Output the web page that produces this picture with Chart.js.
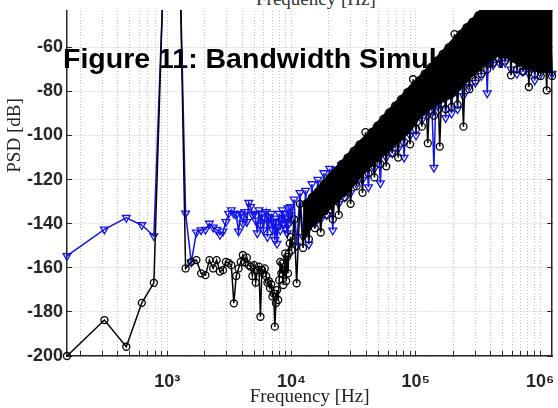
<!DOCTYPE html>
<html><head><meta charset="utf-8">
<script src="https://cdn.jsdelivr.net/npm/chart.js@4.4.1/dist/chart.umd.min.js"></script>
<style>
html,body{margin:0;padding:0;background:#fff;width:558px;height:408px;overflow:hidden;position:relative;}
#clip{position:absolute;left:0;top:10px;width:558px;height:398px;overflow:hidden;}
#cv{position:absolute;left:0;top:-105px;}
#above{position:absolute;left:256px;top:-11px;font-family:"Liberation Serif";font-size:19px;line-height:19px;color:#333;white-space:nowrap;}
</style></head><body>
<div id="above">Frequency [Hz]</div>
<div id="clip"><canvas id="cv" width="558" height="503"></canvas></div>
<script>
// ---------- data ----------
const FIG_TITLE = 'Figure 11: Bandwidth Simulation';
const X_TITLE = 'Frequency [Hz]';
const Y_TITLE = 'PSD [dB]';

// individually resolved FFT bins (Hz)
const sparseFreqHz = [156.25, 312.5, 468.75, 625, 781.25, 937.5, 1093.75, 1250, 1406.25, 1562.5,
  1718.75, 1875, 2031.25, 2187.5, 2343.75, 2500, 2656.25, 2812.5, 2968.75, 3125,
  3281.25, 3437.5, 3593.75, 3750, 3906.25, 4062.5, 4218.75, 4375, 4531.25, 4687.5,
  4843.75, 5000, 5156.25, 5312.5, 5468.75, 5625, 5781.25, 5937.5, 6093.75, 6250,
  6406.25, 6562.5, 6718.75, 6875, 7031.25, 7187.5, 7343.75, 7500, 7656.25, 7812.5,
  7968.75, 8125, 8281.25, 8437.5, 8593.75, 8750, 8906.25, 9062.5, 9218.75, 9375,
  9531.25, 9687.5, 9843.75, 10000];
const blueSparse = [-154.6, -142.6, -137.3, -140.6, -145.6, -25, -2, -8, -135.3, -157.5,
  -143.9, -142.9, -142.7, -139.9, -141.7, -142.7, -145, -143.5, -139.2, -135.4,
  -133.8, -135.4, -136, -143.5, -135.4, -139.9, -134.6, -139.2, -130.5, -132.4,
  -136, -135.4, -138.5, -144.3, -133.8, -140.7, -135.4, -142.9, -137.6, -134.6,
  -146, -136.9, -139.9, -135.4, -142.9, -139.2, -147.4, -137.6, -149, -141.4,
  -135.4, -142.9, -138.5, -133.8, -139.9, -135.4, -142, -137.6, -144.3, -133,
  -139.9, -136.1, -132.4, -138.5];
const blackSparse = [-200, -183.7, -195.8, -175.9, -166.8, -22, -1, -5, -160.3, -157.3,
  -156.5, -162.5, -163.3, -156.5, -160.3, -156.5, -161.7, -161, -157.3, -157.8,
  -158.8, -176.1, -163.7, -160.3, -157.3, -154.2, -157.6, -155.4, -158.8, -159.5,
  -163.7, -158.8, -166.7, -161, -159.5, -182.2, -161, -162.5, -160.3, -163.7,
  -166.7, -166, -169.2, -167.5, -173, -171.6, -186.7, -176, -170.1, -174.6,
  -165.6, -157.3, -162.5, -158, -167.8, -161, -153.5, -166, -155, -162.5,
  -153.4, -148.9, -146, -152];

// dense region (kHz), sampled along the upper / lower edges of the cloud
const denseFreqKHz = [10.5, 11, 11.7, 12.4, 13, 13.8, 14.6, 15.4, 16.3, 17.2,
  18.2, 19.2, 20.3, 21.5, 22.7, 24, 25.3, 26.8, 28.3, 29.9,
  31.6, 33.4, 35.3, 37.3, 39.4, 41.6, 44, 46.5, 49.1, 51.9,
  54.8, 57.9, 61.2, 64.7, 68.3, 72.2, 76.3, 80.6, 85.2, 90,
  95.1, 100.5, 106, 112, 118, 125, 132, 140, 148, 156,
  165, 174, 184, 194, 205, 217, 229, 242, 256, 270,
  286, 302, 319, 337, 356, 376, 397, 420, 444, 469,
  495, 523, 553, 584, 617, 652, 689, 728, 769, 813,
  859, 907, 959, 1013, 1070, 1131, 1195, 1250];
const blackDense = [-138, -167, -131, -151, -131, -147, -128, -142, -125.5, -144,
  -122, -136, -119, -138, -116.5, -136, -113, -128, -110, -131,
  -107, -123, -104, -126, -98.5, -117, -98.5, -119, -95.5, -113,
  -92.5, -114, -89.5, -108, -86.5, -110, -83.5, -103, -80.5, -104,
  -74.5, -97, -75, -96, -72, -103.5, -69, -91, -66, -105,
  -63, -88, -60, -87, -54, -86, -54, -96, -51, -79,
  -48.5, -75, -45.5, -72, -40, -70, -39, -67, -38, -65,
  -38, -66, -38, -72.7, -38, -70, -38, -71, -38, -78,
  -39, -72, -39, -73, -40, -79.5, -40, -73];
const blueDense = [-129, -150, -126, -146, -125, -149.4, -122, -140, -120, -138,
  -117, -136, -115, -143, -115.5, -131, -113.5, -128, -111.5, -126,
  -108.5, -122, -105.5, -120, -103.5, -123.4, -99.5, -115, -96.5, -121.6,
  -94.5, -110, -90.5, -108, -88.5, -106, -85.5, -110, -82.5, -100,
  -79.5, -100, -76.5, -93, -73.5, -91, -70.5, -114.6, -67.5, -88,
  -64.5, -92, -61.5, -90, -58.5, -88, -55.5, -82, -52.5, -78,
  -49.5, -76, -46.5, -73, -43, -80.8, -42, -68, -41, -67,
  -41, -67, -41, -70, -41, -72, -41, -71, -41, -72,
  -42, -75, -42, -72, -43, -69, -43, -72];

// solid core of the black cloud
const bandFreqKHz = [12.4, 14.6, 17.2, 20.3, 24, 28.3, 33.4, 39.4, 46.5, 54.8,
  64.7, 76.3, 90, 106, 125, 148, 174, 205, 242, 286,
  337, 397, 469, 553, 652, 769, 907, 1070, 1250];
const bandTop = [-130.5, -126, -121.5, -117, -112.5, -108, -103.5, -99.5, -95, -90.5,
  -86, -81.5, -77, -73, -68.5, -64, -59.5, -55, -50.5, -46.5,
  -42, -40, -38, -38, -38, -38, -38, -38, -38];
const bandBot = [-148, -142, -138.5, -134, -130, -126.5, -121.5, -117, -113, -109.5,
  -106, -102.5, -98.5, -93, -89.5, -86.5, -84.5, -82.5, -78, -73.5,
  -70, -66.5, -64, -65.5, -68, -70, -71, -71.5, -71.5];

// axes
const X_MIN = 156.25, X_MAX = 1.2527e6;
const Y_MIN = -200, Y_MAX = 0, Y_STEP = 20;
const xDecades = [100, 1000, 10000, 100000, 1000000];
const xMultipliers = [1, 2, 3, 4, 5, 6, 7, 8, 9];
const xMajorTicks = [1000, 10000, 100000, 1000000];
const xMajorLabels = ['10\u00B3', '10\u2074', '10\u2075', '10\u2076'];

// ---------- build ----------
const toXY = (xs, ys, k) => xs.map((x, i) => ({x: x * k, y: ys[i]}));
const blueData = toXY(sparseFreqHz, blueSparse, 1).concat(toXY(denseFreqKHz, blueDense, 1000));
const blackData = toXY(sparseFreqHz, blackSparse, 1).concat(toXY(denseFreqKHz, blackDense, 1000));
const xGridValues = [];
xDecades.forEach(d => xMultipliers.forEach(m => { const v = d * m; if (v > X_MIN && v < X_MAX) xGridValues.push(v); }));

const AX = '#262626', GRID = '#c2c2c2', BLUE = '#1414e6';
const tickFont = {family: 'Liberation Sans', size: 18, weight: 'bold'};

const titlePlugin = {
  id: 'figTitle',
  beforeDatasetsDraw(chart) {
    const c = chart.ctx, a = chart.chartArea;
    c.save();
    c.font = 'bold 28.5px "Liberation Sans"';
    c.fillStyle = '#000';
    c.textBaseline = 'alphabetic';
    c.fillText(FIG_TITLE, a.left - 4, a.top + 153);
    c.restore();
  }
};

new Chart(document.getElementById('cv'), {
  type: 'line',
  data: {
    datasets: [
      {label: 'black', data: blackData, borderColor: '#000', borderWidth: 1.5,
       pointStyle: 'circle', pointRadius: 3.5, pointBorderWidth: 1.3, pointBorderColor: '#000',
       pointBackgroundColor: 'rgba(0,0,0,0)', fill: false, order: 1, clip: false},
      {label: 'coreTop', data: toXY(bandFreqKHz, bandTop, 1000), borderColor: 'rgba(0,0,0,0)', borderWidth: 1,
       pointRadius: 0, fill: false, order: 2, clip: false},
      {label: 'coreBot', data: toXY(bandFreqKHz, bandBot, 1000), borderColor: 'rgba(0,0,0,0)', borderWidth: 1,
       pointRadius: 0, fill: '-1', backgroundColor: '#000', order: 2, clip: false},
      {label: 'blue', data: blueData, borderColor: BLUE, borderWidth: 1.5,
       pointStyle: 'triangle', pointRotation: 180, pointRadius: 4.5, pointBorderWidth: 1.3,
       pointBorderColor: BLUE, pointBackgroundColor: 'rgba(0,0,0,0)', fill: false, order: 3, clip: false}
    ]
  },
  options: {
    responsive: false, animation: false, devicePixelRatio: 1,
    layout: {padding: {top: 10, left: 0, right: 0, bottom: 0}},
    plugins: {legend: {display: false}, tooltip: {enabled: false}, title: {display: false}},
    elements: {line: {tension: 0}},
    scales: {
      x: {
        type: 'logarithmic', position: 'bottom', min: X_MIN, max: X_MAX,
        afterBuildTicks: s => { s.ticks = xGridValues.map(v => ({value: v})); },
        afterFit: s => { s.height = 52; s.paddingLeft = 0; s.paddingRight = 0; },
        grid: {color: GRID, lineWidth: 1, tickLength: -5, tickColor: AX, tickWidth: 1},
        border: {display: true, color: AX, width: 1.5, dash: [1, 2]},
        ticks: {autoSkip: false, maxRotation: 0, padding: 20, color: AX, font: tickFont,
          callback: v => { const i = xMajorTicks.indexOf(v); return i >= 0 ? xMajorLabels[i] : ''; }},
        title: {display: true, text: X_TITLE, color: '#222', font: {family: 'Liberation Serif', size: 19}, padding: {top: 0, bottom: 0}}
      },
      y: {
        type: 'linear', position: 'left', min: Y_MIN, max: Y_MAX,
        afterFit: s => { s.width = 67; s.paddingTop = 0; s.paddingBottom = 0; },
        grid: {color: GRID, lineWidth: 1, tickLength: -5, tickColor: AX, tickWidth: 1},
        border: {display: true, color: AX, width: 1.5, dash: [1, 2]},
        ticks: {stepSize: Y_STEP, padding: 9, color: AX, font: tickFont, callback: v => String(v)},
        title: {display: true, text: Y_TITLE, color: '#222', font: {family: 'Liberation Serif', size: 19}, padding: {top: 4, bottom: 0}}
      },
      y2: {
        type: 'linear', position: 'right', min: Y_MIN, max: Y_MAX,
        afterFit: s => { s.width = 1; s.paddingTop = 0; s.paddingBottom = 0; },
        grid: {drawOnChartArea: false, tickLength: -5, tickColor: AX, tickWidth: 1},
        border: {display: true, color: AX, width: 1.5},
        ticks: {stepSize: Y_STEP, display: false}
      }
    }
  },
  plugins: [titlePlugin]
});
</script>
</body></html>
